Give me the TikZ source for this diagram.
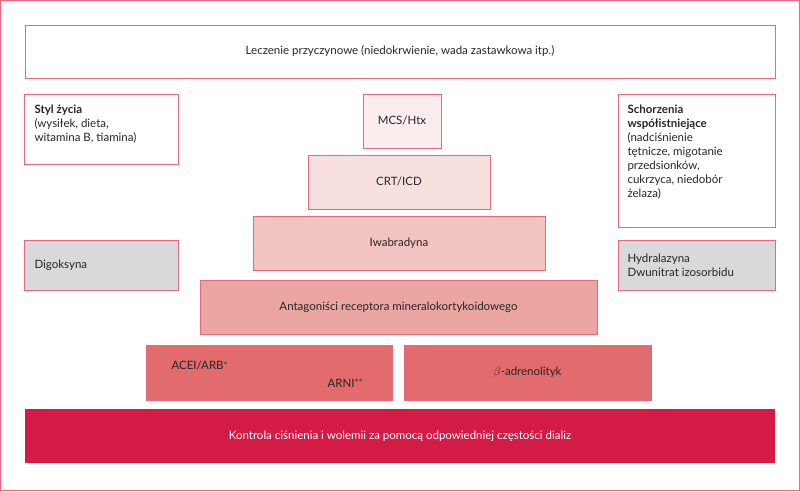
\documentclass[tikz,border=0pt]{standalone}
\usepackage{fontspec}
\setmainfont{Lato}
\definecolor{bd}{HTML}{E8697F}
\definecolor{c1}{HTML}{FBEDED}
\definecolor{c2}{HTML}{F8E0DF}
\definecolor{c3}{HTML}{F2C4C0}
\definecolor{c4}{HTML}{EBA6A3}
\definecolor{c5}{HTML}{E26B6D}
\definecolor{c6}{HTML}{D41A46}
\definecolor{gr}{HTML}{D9D9DB}
\begin{document}
\begin{tikzpicture}[x=1pt,y=-1pt,
 bx/.style={draw=bd,line width=0.9pt},
 lbl/.style={font=\fontsize{11.5}{14}\selectfont,text=black!85}]
\draw[draw=bd,line width=1pt] (0.5,0.5) rectangle (799.5,490.5);
\useasboundingbox (0,0) rectangle (800,491);
\draw[bx] (25,25) rectangle (775,78) node[midway,lbl] (top) {Leczenie przyczynowe (niedokrwienie, wada zastawkowa itp.)};
\draw[bx] (24,94) rectangle (178,164);
\node[lbl,anchor=north west,align=left] (styl) at (31,101) {\textbf{Styl życia}\\(wysiłek, dieta,\\witamina B, tiamina)};
\draw[bx,fill=c1] (363,94) rectangle (441,148) node[midway,lbl] (mcs) {MCS/Htx};
\draw[bx,fill=c2] (308,155) rectangle (490,209) node[midway,lbl] (crt) {CRT/ICD};
\draw[bx,fill=c3] (253,216) rectangle (545,270) node[midway,lbl] (iwa) {Iwabradyna};
\draw[bx,fill=c4] (200,280) rectangle (597,334) node[midway,lbl] (ant) {Antagoniści receptora mineralokortykoidowego};
\draw[bx,fill=c5] (146,345) rectangle (392,400);
\node[lbl,anchor=west] (acei) at (168,366) {ACEI/ARB$^{*}$};
\node[lbl,anchor=west] (arni) at (324,383) {ARNI$^{**}$};
\draw[bx,fill=c5] (404,345) rectangle (651,400) node[midway,lbl] (beta) {$\beta$-adrenolityk};
\fill[c6] (25,409) rectangle (775,463) node[midway,lbl,text=white] (kon) {Kontrola ciśnienia i wolemii za pomocą odpowiedniej częstości dializ};
\draw[bx,fill=gr] (24,240) rectangle (178,290) node[midway,lbl,anchor=west] at (31,265) (dig) {};
\node[lbl,anchor=west] (digt) at (31,265) {Digoksyna};
\draw[bx] (618,94) rectangle (775,227);
\node[lbl,anchor=north west,align=left] (sch) at (624,101) {\textbf{Schorzenia}\\\textbf{współistniejące}\\(nadciśnienie\\tętnicze, migotanie\\przedsionków,\\cukrzyca, niedobór\\żelaza)};
\draw[bx,fill=gr] (618,240) rectangle (775,290);
\node[lbl,anchor=west,align=left] (hyd) at (624,265) {Hydralazyna\\Dwunitrat izosorbidu};
\end{tikzpicture}
\end{document}
